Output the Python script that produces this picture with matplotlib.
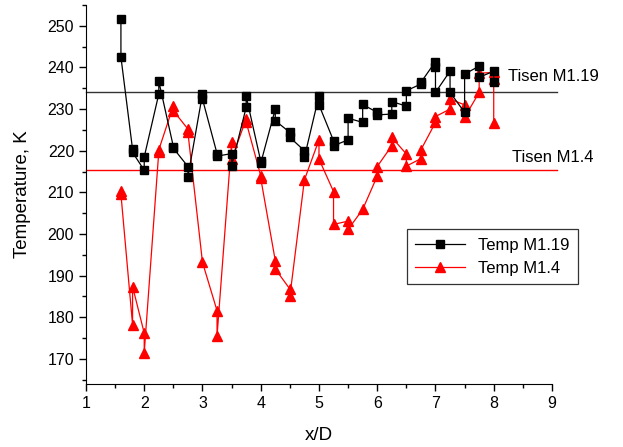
import matplotlib
matplotlib.use("Agg")
import matplotlib.pyplot as plt
from matplotlib.ticker import MultipleLocator

plt.rcParams['font.family'] = ['Liberation Sans', 'DejaVu Sans']

# Temp M1.19 (black squares)
x_119 = [1.6, 1.6, 1.8, 1.8, 2.0, 2.0, 2.25, 2.25, 2.5, 2.5, 2.75, 2.75,
         3.0, 3.0, 3.25, 3.25, 3.5, 3.5, 3.75, 3.75, 4.0, 4.0, 4.25, 4.25,
         4.5, 4.5, 4.75, 4.75, 5.0, 5.0, 5.25, 5.25, 5.5, 5.5, 5.75, 5.75,
         6.0, 6.0, 6.25, 6.25, 6.5, 6.5, 6.75, 6.75, 7.0, 7.0, 7.0,
         7.25, 7.25, 7.5, 7.5, 7.75, 7.75, 8.0, 8.0]
t_119 = [251.7, 242.5, 220.3, 219.6, 215.3, 218.5, 233.6, 236.7, 221.0, 220.6,
         216.2, 213.7, 233.6, 232.4, 219.3, 218.7, 219.3, 216.4, 230.4, 233.1,
         217.5, 217.0, 230.0, 227.2, 224.4, 223.2, 220.0, 218.4, 233.2, 231.0,
         222.4, 221.2, 222.6, 227.8, 226.8, 231.1, 229.2, 228.6, 228.8, 231.8,
         230.7, 234.4, 236.0, 236.4, 241.4, 240.2, 234.0, 239.1, 234.0,
         229.2, 238.4, 240.3, 237.6, 239.1, 236.4]

# Temp M1.4 (red triangles)
x_14 = [1.6, 1.6, 1.8, 1.8, 2.0, 2.0, 2.25, 2.25, 2.5, 2.5, 2.75, 2.75,
        3.0, 3.25, 3.25, 3.5, 3.5, 3.75, 3.75, 4.0, 4.0, 4.25, 4.25,
        4.5, 4.5, 4.75, 5.0, 5.0, 5.25, 5.25, 5.5, 5.5, 5.75,
        6.0, 6.0, 6.25, 6.25, 6.5, 6.5, 6.75, 6.75, 7.0, 7.0,
        7.25, 7.25, 7.5, 7.5, 7.75, 7.75, 8.0, 8.0, 8.0]
t_14 = [210.3, 209.6, 178.2, 187.4, 176.2, 171.5, 219.8, 220.2, 230.8, 229.6,
        225.2, 224.4, 193.2, 181.6, 175.5, 222.0, 218.0, 227.6, 226.9, 214.0,
        213.4, 193.6, 191.6, 186.8, 185.0, 213.0, 222.6, 218.0, 210.2, 202.3,
        203.1, 201.1, 205.9, 213.9, 216.2, 221.2, 223.2, 219.2, 216.3,
        218.1, 220.2, 226.8, 228.2, 230.0, 232.4, 231.0, 228.0, 234.0, 238.6,
        238.8, 237.2, 226.6]

tisen_119 = 234.0
tisen_14 = 215.3

fig = plt.figure(figsize=(6.23, 4.47), dpi=100)
ax = fig.add_axes([0.138, 0.141, 0.748, 0.848])

ax.plot(x_119, t_119, '-', color='black', lw=0.9, marker='s', ms=5.5,
        label='Temp M1.19', zorder=3)
ax.plot(x_14, t_14, '-', color='red', lw=0.9, marker='^', ms=7,
        label='Temp M1.4', zorder=2)

ax.plot([1, 9.09], [tisen_119, tisen_119], color='#333333', lw=1.0, clip_on=False, zorder=1)
ax.plot([1, 9.09], [tisen_14, tisen_14], color='red', lw=1.0, clip_on=False, zorder=1)
ax.text(8.24, 237.7, 'Tisen M1.19', fontsize=12, va='center', ha='left')
ax.text(8.31, 218.4, 'Tisen M1.4', fontsize=12, va='center', ha='left')

ax.set_xlim(1, 9)
ax.set_ylim(164, 255)
ax.xaxis.set_major_locator(MultipleLocator(1))
ax.xaxis.set_minor_locator(MultipleLocator(0.5))
ax.yaxis.set_major_locator(plt.FixedLocator(range(170, 251, 10)))
ax.yaxis.set_minor_locator(MultipleLocator(5))
ax.tick_params(which='major', direction='out', length=5, width=1, labelsize=11.5)
ax.tick_params(which='minor', direction='out', length=3, width=1)

ax.spines['top'].set_visible(False)
ax.spines['right'].set_visible(False)

ax.set_xlabel('x/D', fontsize=13.5, labelpad=12)
ax.set_ylabel('Temperature, K', fontsize=13.5, labelpad=12)

leg = ax.legend(loc='upper left', bbox_to_anchor=(0.67, 0.43), fontsize=12,
                frameon=True, fancybox=False, edgecolor='black', handlelength=3,
                borderpad=0.5, labelspacing=0.5)
leg.get_frame().set_linewidth(0.9)

plt.savefig('out.png', dpi=100)
